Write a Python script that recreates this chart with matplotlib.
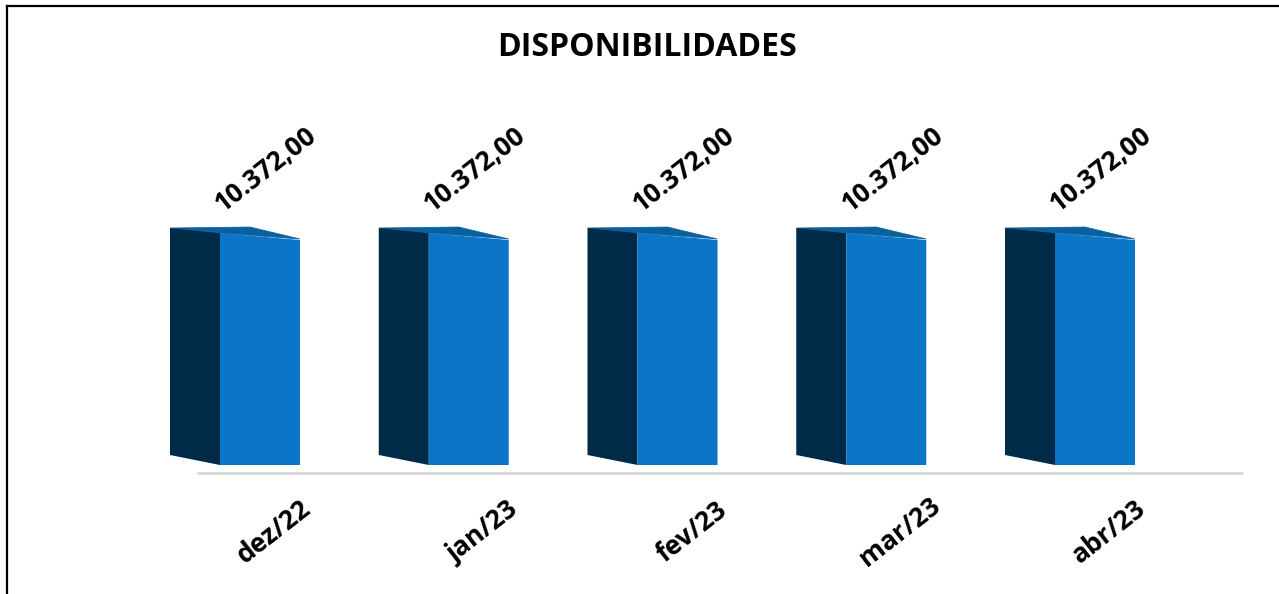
import matplotlib
matplotlib.use("Agg")
import matplotlib.pyplot as plt
from matplotlib.patches import Polygon
from matplotlib.lines import Line2D
import numpy as np

categories = ["dez/22", "jan/23", "fev/23", "mar/23", "abr/23"]
values = [10372.00, 10372.00, 10372.00, 10372.00, 10372.00]
value_labels = ["10.372,00", "10.372,00", "10.372,00", "10.372,00", "10.372,00"]
title = "DISPONIBILIDADES"

W, H = 1279, 594
fig = plt.figure(figsize=(W / 100, H / 100), dpi=100)
ax = fig.add_axes([0, 0, 1, 1])

# pixel geometry helpers
x0_px, step_px = 260.0, 208.75
base_px = 465.0
s = 230.0 / max(values)  # pixels per unit
ax.set_xlim(-x0_px / step_px, (W - x0_px) / step_px)
ax.set_ylim(-(H - base_px) / s, base_px / s)
ax.axis("off")

px_x = 1.0 / step_px   # data units per pixel (x)
px_y = 1.0 / s         # data units per pixel (y)

front = "#0B76C8"
side = "#002B48"
topc = "#08609F"

x = np.arange(len(categories))
fw = 80 * px_x
sw = 50 * px_x
for xi, v in zip(x, values):
    L = xi - fw / 2
    R = xi + fw / 2
    Ls = L - sw
    # top face
    ax.add_patch(Polygon([(Ls, v + 7 * px_y), (Ls + 80 * px_x, v + 8 * px_y),
                          (R, v - 4 * px_y), (L, v + 2 * px_y)],
                         closed=True, facecolor=topc, edgecolor=topc, lw=0.5, zorder=3))
    # side face
    ax.add_patch(Polygon([(Ls, 10 * px_y), (L, 0), (L, v + 2 * px_y), (Ls, v + 7 * px_y)],
                         closed=True, facecolor=side, edgecolor="none", zorder=4))
    # front face (slight perspective at top)
    ax.add_patch(Polygon([(L, 0), (R, 0), (R, v - 5 * px_y), (L, v + 2 * px_y)],
                         closed=True, facecolor=front, edgecolor="none", zorder=4))

# baseline
ax.plot([(197 - x0_px) / step_px, (1243 - x0_px) / step_px], [-8 * px_y, -8 * px_y],
        color="#D9D9D9", lw=2, zorder=2, solid_capstyle="butt")

fam = ["Open Sans", "DejaVu Sans"]
for xi, v, lab in zip(x, values, value_labels):
    ax.text(xi + 6 * px_x, v + 65 * px_y, lab, rotation=38, ha="center", va="center",
            rotation_mode="anchor", fontsize=19, fontweight="bold", family=fam, color="black")

for xi, cat in zip(x, categories):
    ax.text(xi + 14 * px_x, -67 * px_y, cat, rotation=38, ha="center", va="center",
            rotation_mode="anchor", fontsize=19, fontweight="bold", family=fam, color="black")

fig.text(647 / W, 1 - 48 / H, title, ha="center", va="center", fontsize=23,
         fontweight="bold", family=fam, color="black")

# outer frame (top and left edges)
fig.add_artist(Line2D([7 / W, 1.0], [1 - 6 / H, 1 - 6 / H], color="black", lw=1.6,
                      transform=fig.transFigure))
fig.add_artist(Line2D([7 / W, 7 / W], [0, 1 - 6 / H], color="black", lw=1.6,
                      transform=fig.transFigure))

fig.savefig("out.png", dpi=100)
